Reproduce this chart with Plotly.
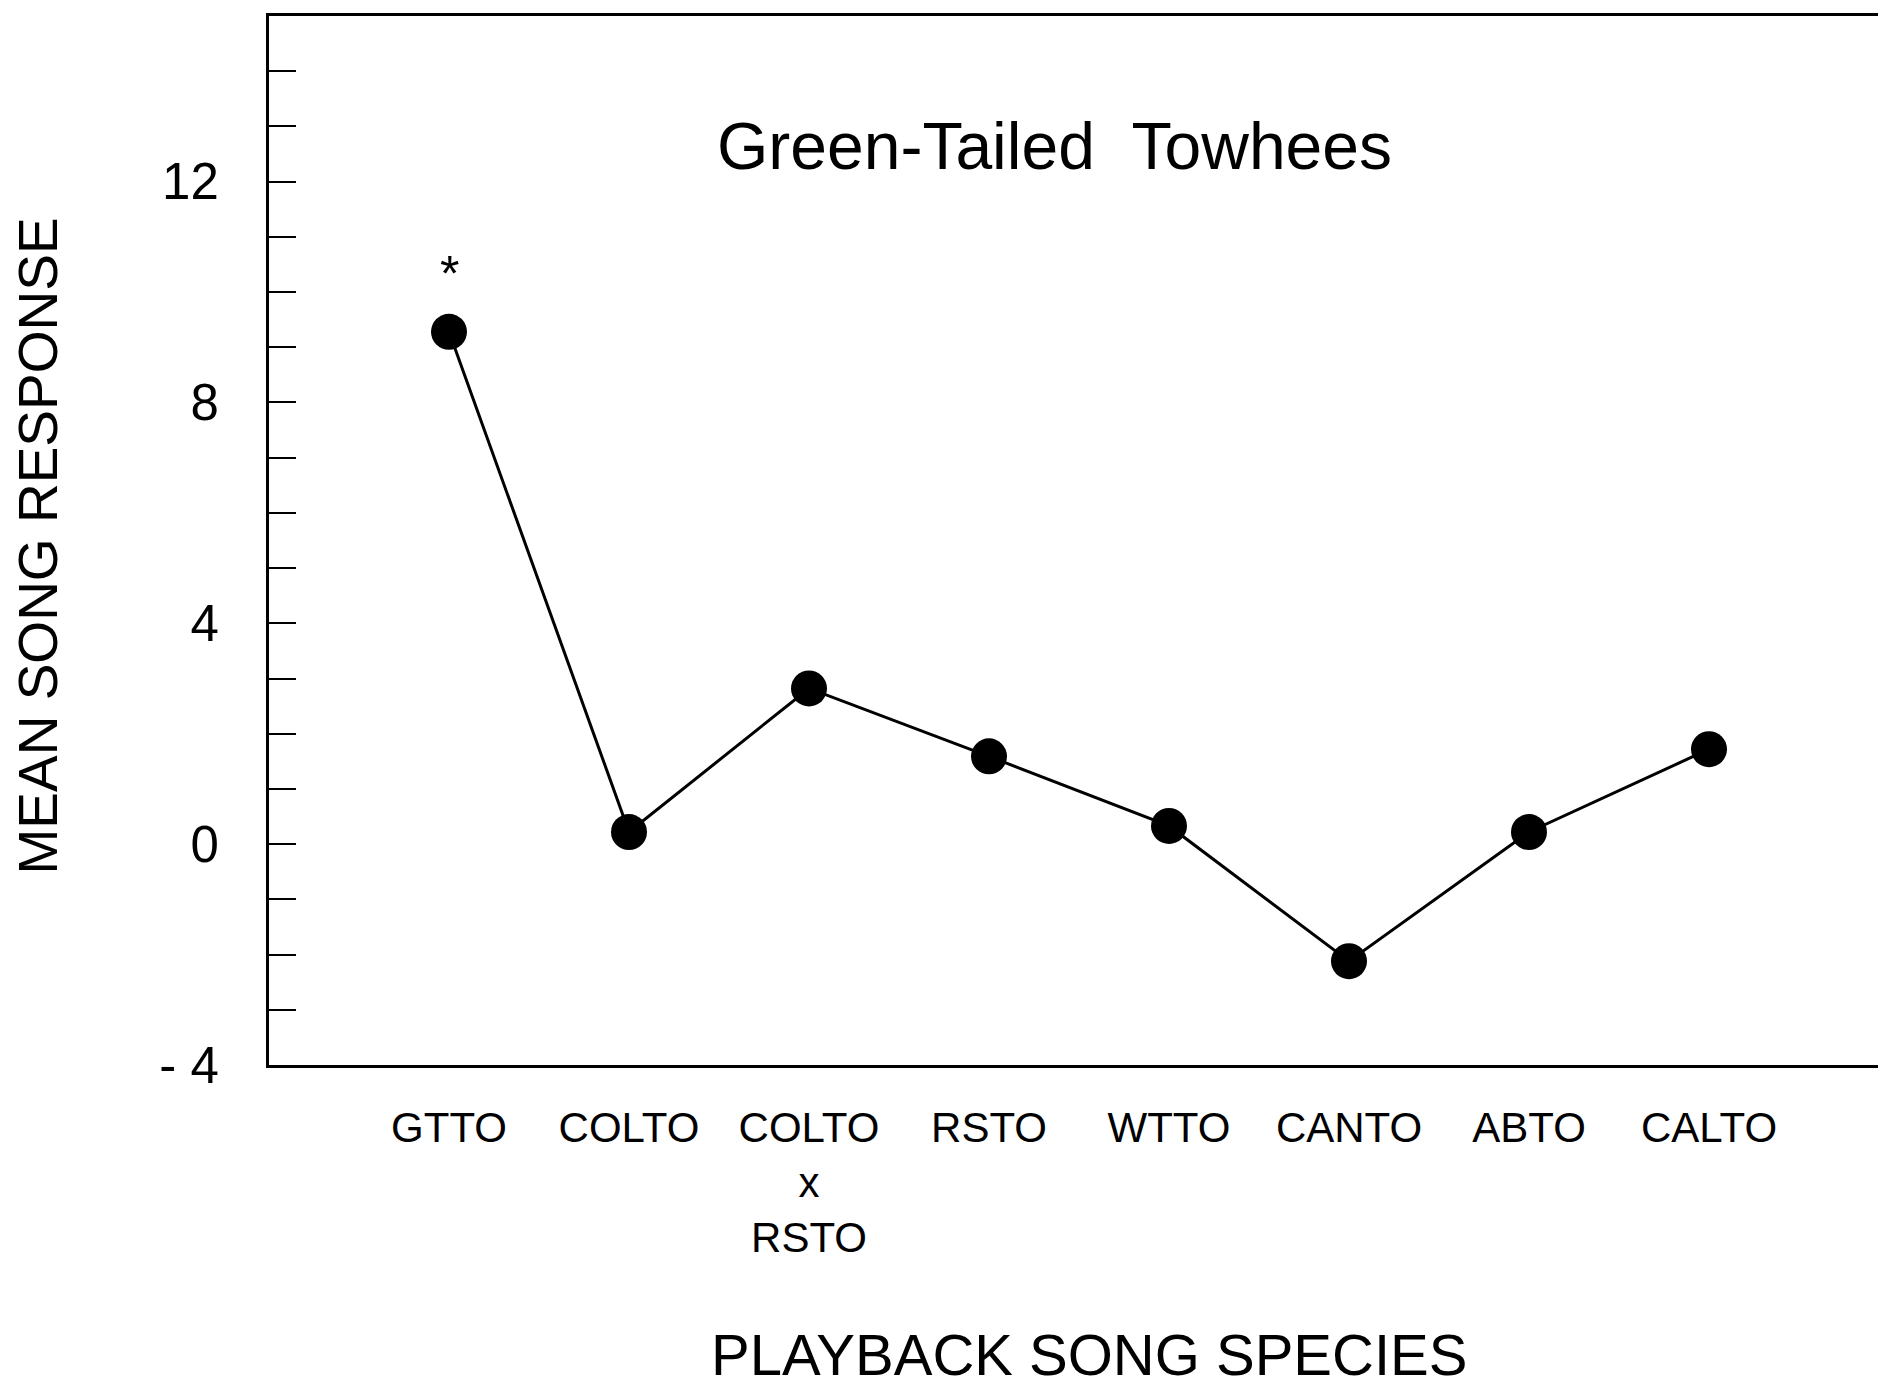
import plotly.graph_objects as go

# ---- data ----
categories = ["GTTO", "COLTO", "COLTO<br>x<br>RSTO", "RSTO", "WTTO", "CANTO", "ABTO", "CALTO"]
positions = [1, 2, 3, 4, 5, 6, 7, 8]
mean_response = [9.28, 0.22, 2.82, 1.59, 0.33, -2.12, 0.22, 1.72]
significant = [True, False, False, False, False, False, False, False]
y_tickvals = [-4, 0, 4, 8, 12]
y_ticktext = ["- 4", "0", "4", "8", "12"]

FONT = "Liberation Sans, Arial, Helvetica, sans-serif"

fig = go.Figure()
fig.add_trace(go.Scatter(
    x=positions, y=mean_response, mode="lines+markers",
    line=dict(color="black", width=3),
    marker=dict(color="black", size=36),
    showlegend=False, hoverinfo="skip",
))

annotations = []
for xv, yv, sig in zip(positions, mean_response, significant):
    if sig:
        annotations.append(dict(x=xv, y=yv, xref="x", yref="y", text="*",
                                showarrow=False, yshift=58,
                                font=dict(family=FONT, size=50, color="black")))

annotations.append(dict(x=0.485, y=0.876, xref="paper", yref="paper",
                        text="Green-Tailed&nbsp;&nbsp;Towhees", showarrow=False,
                        xanchor="center", yanchor="middle",
                        font=dict(family=FONT, size=66, color="black")))
annotations.append(dict(x=0, y=0.5, xref="paper", yref="paper",
                        text="MEAN SONG RESPONSE", showarrow=False, textangle=-90,
                        xanchor="center", yanchor="middle", xshift=-232, yshift=-6,
                        font=dict(family=FONT, size=55, color="black")))
annotations.append(dict(x=0.5, y=0, xref="paper", yref="paper",
                        text="PLAYBACK SONG SPECIES", showarrow=False,
                        xanchor="center", yanchor="middle", xshift=10, yshift=-289,
                        font=dict(family=FONT, size=58, color="black")))

fig.update_layout(
    width=1886, height=1390,
    margin=dict(l=261, r=2, t=8, b=333),
    paper_bgcolor="white", plot_bgcolor="white",
    annotations=annotations,
    xaxis=dict(range=[0, 9], tickvals=positions, ticktext=categories,
               showgrid=False, zeroline=False, showline=True, linecolor="black",
               linewidth=3, mirror=True, ticks="", ticklabelstandoff=24,
               tickfont=dict(family=FONT, size=42, color="black")),
    yaxis=dict(range=[-4, 15], tickvals=y_tickvals, ticktext=y_ticktext,
               showgrid=False, zeroline=False, showline=True, linecolor="black",
               linewidth=3, mirror=True, ticks="inside", ticklen=27, tickwidth=2,
               tickcolor="black", ticklabelstandoff=37,
               minor=dict(dtick=1, tick0=0, ticks="inside", ticklen=27,
                          tickwidth=2, tickcolor="black", showgrid=False),
               tickfont=dict(family=FONT, size=51, color="black")),
)

fig.write_html("out.html")
